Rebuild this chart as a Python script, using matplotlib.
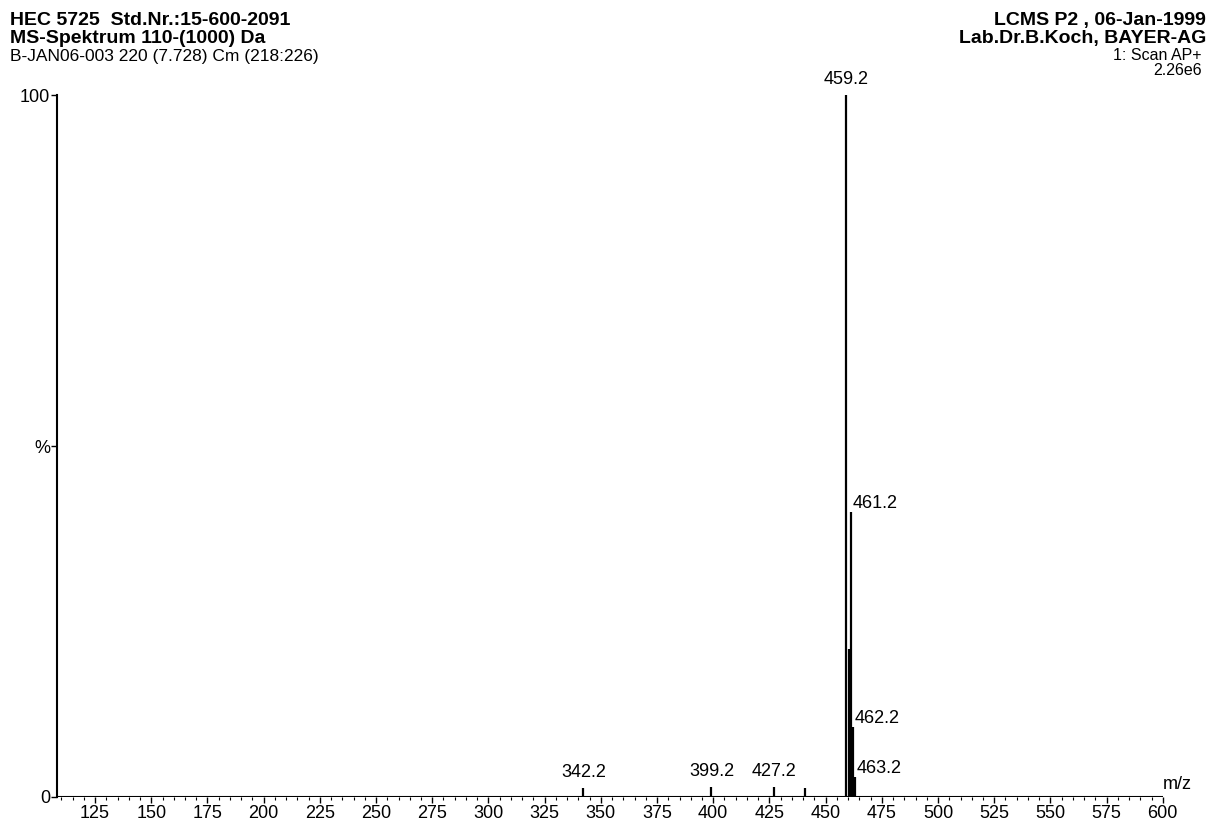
import matplotlib.pyplot as plt
from matplotlib.ticker import MultipleLocator

plt.rcParams['font.family'] = ['Liberation Sans', 'DejaVu Sans']

# peaks: m/z and relative intensity (%)
mz = [342.2, 399.2, 427.2, 441.0, 459.2, 460.2, 461.2, 462.2, 463.2]
intensity = [1.3, 1.4, 1.4, 1.2, 100.0, 21.0, 40.6, 10.0, 2.8]

labelled = [342.2, 399.2, 427.2, 459.2, 461.2, 462.2, 463.2]
side_labels = [461.2, 462.2, 463.2]

xticks = [125, 150, 175, 200, 225, 250, 275, 300, 325, 350, 375, 400,
          425, 450, 475, 500, 525, 550, 575, 600]

fig = plt.figure(figsize=(12.1, 8.23), dpi=100)
ax = fig.add_axes([0.047, 0.032, 0.914, 0.852])

ax.vlines(mz, 0, intensity, color='black', linewidth=1.6)
ax.axhline(0, color='black', linewidth=1.5)

for m, h in zip(mz, intensity):
    if m not in labelled:
        continue
    if m in side_labels:
        ax.text(m + 0.8, h + 1.2, f"{m:.1f}", ha='left', va='center', fontsize=13)
    else:
        ax.text(m, h + 1.0, f"{m:.1f}", ha='center', va='bottom', fontsize=13)

ax.set_xlim(108, 600)
ax.set_ylim(0, 100)
ax.spines['top'].set_visible(False)
ax.spines['right'].set_visible(False)
ax.spines['bottom'].set_visible(False)
ax.spines['left'].set_linewidth(1.5)

ax.set_xticks(xticks)
ax.set_xticklabels([str(t) for t in xticks], fontsize=13)
ax.xaxis.set_minor_locator(MultipleLocator(5))
ax.tick_params(axis='x', which='major', direction='out', length=4, width=1, pad=2)
ax.tick_params(axis='x', which='minor', direction='out', length=2, width=0.8)
ax.set_yticks([0, 50, 100])
ax.set_yticklabels(['0', '%', '100'], fontsize=13)
ax.tick_params(axis='y', direction='out', length=4, width=1, pad=1)

ax.text(1.0, 0.005, "m/z", transform=ax.transAxes, ha='left', va='bottom', fontsize=13)

# header text
fig.text(0.008, 0.985, "HEC 5725  Std.Nr.:15-600-2091", ha='left', va='top',
         fontsize=14, fontweight='bold')
fig.text(0.008, 0.963, "MS-Spektrum 110-(1000) Da", ha='left', va='top',
         fontsize=14, fontweight='bold')
fig.text(0.008, 0.941, "B-JAN06-003 220 (7.728) Cm (218:226)", ha='left', va='top',
         fontsize=12.5)

fig.text(0.997, 0.985, "LCMS P2 , 06-Jan-1999", ha='right', va='top',
         fontsize=14, fontweight='bold')
fig.text(0.997, 0.963, "Lab.Dr.B.Koch, BAYER-AG", ha='right', va='top',
         fontsize=14, fontweight='bold')
fig.text(0.993, 0.942, "1: Scan AP+", ha='right', va='top', fontsize=11.5)
fig.text(0.993, 0.924, "2.26e6", ha='right', va='top', fontsize=11.5)

fig.savefig("out.png", dpi=100)
